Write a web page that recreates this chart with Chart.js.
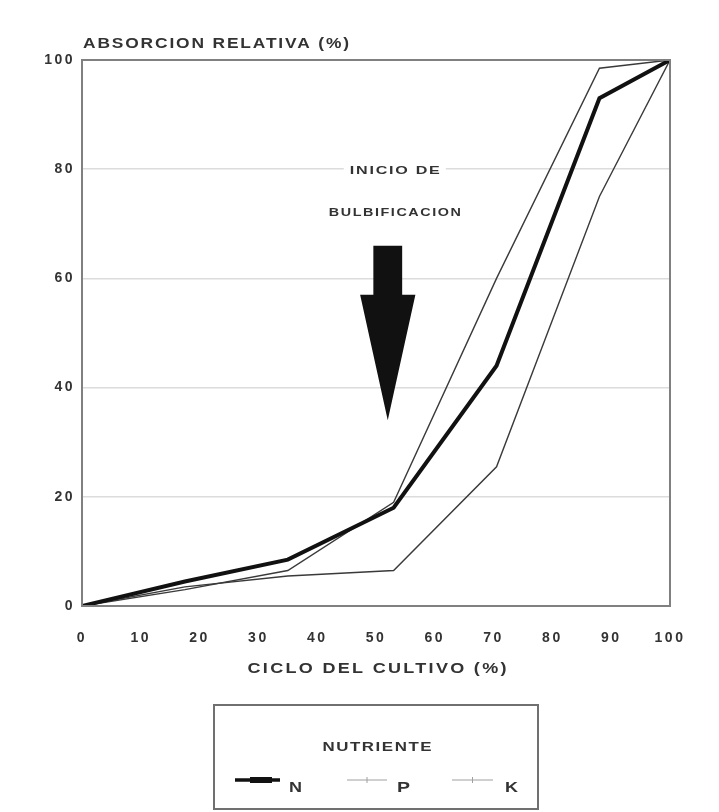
<!DOCTYPE html>
<html><head><meta charset="utf-8">
<script src="https://cdn.jsdelivr.net/npm/chart.js@4"></script>
<style>html,body{margin:0;padding:0;background:#fff}#wrap{width:719px;height:812px}canvas{display:block}</style>
</head><body><div id="wrap"><canvas id="c" width="719" height="812"></canvas></div>
<script>
// ---- data ----
const cycle   = [0, 17.5, 35, 53, 70.5, 88, 100];
const seriesN = [0, 4.5, 8.5, 18, 44, 93, 100];
const seriesP = [0, 3, 6.5, 19, 60, 98.5, 100];
const seriesK = [0, 3.5, 5.5, 6.5, 25.5, 75, 100];
const seriesNames = ['N', 'P', 'K'];
const xTickValues = [0, 10, 20, 30, 40, 50, 60, 70, 80, 90, 100];
const yTickValues = [0, 20, 40, 60, 80, 100];
const yTitle = 'ABSORCION RELATIVA (%)';
const xTitle = 'CICLO DEL CULTIVO (%)';
const legendTitle = 'NUTRIENTE';
const noteLines = ['INICIO DE', 'BULBIFICACION'];

const FONT = "'Liberation Sans', Arial, sans-serif";
const TXT = '#333';

function pts(ys) { return cycle.map((x, i) => ({ x: x, y: ys[i] })); }

// draw text horizontally stretched so it spans `target` px
function wideText(ctx, text, x, y, align, target, font, spacing) {
  ctx.save();
  ctx.font = font; ctx.letterSpacing = spacing + 'px';
  ctx.textAlign = 'left'; ctx.textBaseline = 'middle';
  const w = ctx.measureText(text).width - spacing;
  const s = target / w;
  let left = x;
  if (align === 'center') left = x - target / 2;
  ctx.translate(left, y); ctx.scale(s, 1);
  ctx.fillText(text, 0, 0);
  ctx.restore();
}

const decor = {
  id: 'decor',
  beforeDraw(chart) { chart.ctx.letterSpacing = '2.5px'; },
  afterDraw(chart, args, o) {
    const ctx = chart.ctx, a = chart.chartArea;
    const xs = chart.scales.x, ys = chart.scales.y;
    ctx.save();
    ctx.letterSpacing = '0px';
    // frame
    ctx.strokeStyle = '#808080'; ctx.lineWidth = 2;
    ctx.strokeRect(a.left, a.top, a.right - a.left, a.bottom - a.top);
    ctx.fillStyle = TXT;
    // axis titles
    wideText(ctx, yTitle, a.left + 1, a.top - 16, 'left', 266, 'bold 14px ' + FONT, 1.5);
    wideText(ctx, xTitle, (a.left + a.right) / 2 + 1, 669, 'center', 259, 'bold 14px ' + FONT, 1.8);
    // arrow
    const cx = xs.getPixelForValue(o.arrow.x);
    const sw = xs.getPixelForValue(o.arrow.x + o.arrow.shaftHalf) - cx;
    const hw = xs.getPixelForValue(o.arrow.x + o.arrow.headHalf) - cx;
    const yTop = ys.getPixelForValue(o.arrow.top), yNeck = ys.getPixelForValue(o.arrow.neck), yTip = ys.getPixelForValue(o.arrow.tip);
    ctx.fillStyle = '#111';
    ctx.beginPath();
    ctx.moveTo(cx - sw, yTop); ctx.lineTo(cx + sw, yTop); ctx.lineTo(cx + sw, yNeck);
    ctx.lineTo(cx + hw, yNeck); ctx.lineTo(cx, yTip); ctx.lineTo(cx - hw, yNeck);
    ctx.lineTo(cx - sw, yNeck); ctx.closePath(); ctx.fill();
    // note text
    const noteW = [90, 132];
    noteLines.forEach((t, i) => {
      const px = xs.getPixelForValue(o.note.x), py = ys.getPixelForValue(o.note.ys[i]);
      ctx.fillStyle = '#fff'; ctx.fillRect(px - noteW[i] / 2 - 6, py - 8, noteW[i] + 12, 16);
      ctx.fillStyle = TXT;
      wideText(ctx, t, px, py + 2, 'center', noteW[i], 'bold 11px ' + FONT, 1.2);
    });
    // legend
    const L = o.legend;
    ctx.strokeStyle = '#707070'; ctx.lineWidth = 2;
    ctx.strokeRect(L.left, L.top, L.width, L.height);
    ctx.fillStyle = TXT;
    wideText(ctx, legendTitle, L.left + L.width / 2 + 1, L.titleY, 'center', 109, 'bold 13px ' + FONT, 1.2);
    chart.data.datasets.forEach((ds, i) => {
      const it = L.items[i];
      ctx.strokeStyle = i === 0 ? '#111' : '#a0a0a0';
      ctx.lineWidth = i === 0 ? 3.5 : 1;
      ctx.beginPath(); ctx.moveTo(it.x0, L.itemY); ctx.lineTo(it.x1, L.itemY); ctx.stroke();
      if (i === 0) {
        ctx.fillStyle = '#111';
        ctx.fillRect(it.x0 + 15, L.itemY - 3, 22, 6);
      } else {
        ctx.beginPath(); ctx.moveTo((it.x0 + it.x1) / 2, L.itemY - 3); ctx.lineTo((it.x0 + it.x1) / 2, L.itemY + 3); ctx.stroke();
      }
      ctx.fillStyle = TXT;
      wideText(ctx, ds.label, it.tx, L.itemY + 8, 'left', 13, 'bold 14px ' + FONT, 0);
    });
    ctx.restore();
  }
};

new Chart(document.getElementById('c'), {
  type: 'line',
  data: {
    datasets: [
      { label: seriesNames[0], data: pts(seriesN), borderColor: '#111', borderWidth: 4, pointRadius: 0, tension: 0, order: 0 },
      { label: seriesNames[1], data: pts(seriesP), borderColor: '#3a3a3a', borderWidth: 1.4, pointRadius: 0, tension: 0, order: 1 },
      { label: seriesNames[2], data: pts(seriesK), borderColor: '#3a3a3a', borderWidth: 1.4, pointRadius: 0, tension: 0, order: 2 }
    ]
  },
  options: {
    responsive: false, animation: false, devicePixelRatio: 1,
    layout: { padding: { left: 0, right: 49, top: 60, bottom: 132 } },
    plugins: {
      legend: { display: false }, tooltip: { enabled: false }, title: { display: false },
      decor: {
        arrow: { x: 52, shaftHalf: 2.45, headHalf: 4.7, top: 66, neck: 57, tip: 34 },
        note: { x: 53.2, ys: [80, 72.3] },
        legend: { left: 214, top: 705, width: 324, height: 104, titleY: 747, itemY: 780,
          items: [ { x0: 235, x1: 280, tx: 289 }, { x0: 347, x1: 387, tx: 397 }, { x0: 452, x1: 493, tx: 505 } ] }
      }
    },
    scales: {
      x: {
        type: 'linear', min: 0, max: 100,
        afterBuildTicks: s => { s.ticks = xTickValues.map(v => ({ value: v })); },
        afterFit: s => { s.height = 74; },
        grid: { display: false, drawTicks: false },
        border: { display: false },
        ticks: { padding: 24, color: TXT, font: { family: FONT, size: 14, weight: 'bold' }, maxRotation: 0 },
        title: { display: false, text: xTitle }
      },
      y: {
        type: 'linear', min: 0, max: 100,
        afterBuildTicks: s => { s.ticks = yTickValues.map(v => ({ value: v })); },
        afterFit: s => { s.width = 82; },
        grid: { color: '#dcdcdc', lineWidth: 1.5, drawTicks: false },
        border: { display: false },
        ticks: { padding: 7, color: TXT, font: { family: FONT, size: 14, weight: 'bold' } }
      }
    }
  },
  plugins: [decor]
});
</script></body></html>
